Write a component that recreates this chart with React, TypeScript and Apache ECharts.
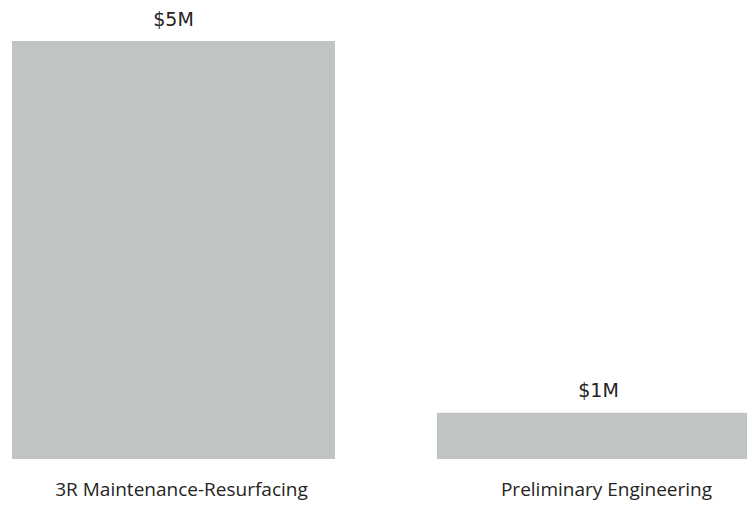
import React, { useEffect, useRef } from "react";
import * as echarts from "echarts";

const categories = ["3R Maintenance-Resurfacing", "Preliminary Engineering"];
const values = [4.6, 0.51]; // millions of dollars

export default function App() {
  const ref = useRef<HTMLDivElement>(null);
  useEffect(() => {
    const chart = echarts.init(ref.current!, null, { renderer: "svg" });
    chart.setOption({
      animation: false,
      grid: { left: 0, right: 0, top: 41, bottom: 46, containLabel: false },
      xAxis: {
        type: "category",
        data: categories,
        axisLine: { show: false },
        axisTick: { show: false },
        axisLabel: {
          margin: 20,
          color: "#252423",
          fontSize: 19,
          fontFamily: "Open Sans",
          padding: [0, 0, 0, 16],
        },
      },
      yAxis: {
        type: "value",
        min: 0,
        max: "dataMax",
        show: false,
        splitLine: { show: false },
      },
      series: [
        {
          type: "bar",
          data: values,
          barWidth: 323,
          itemStyle: { color: "#C0C5C4" },
          label: {
            show: true,
            position: "top",
            distance: 13,
            color: "#252423",
            fontSize: 19,
            fontFamily: "DejaVu Sans",
            formatter: (p: any) => "$" + Math.round(p.value) + "M",
          },
        },
      ],
    });
    return () => chart.dispose();
  }, []);
  return (
    <div style={{ width: 747, height: 505, position: "absolute", left: 0, top: 0, overflow: "hidden" }}>
      <div ref={ref} style={{ width: 850, height: 505, position: "absolute", left: -39, top: 0 }} />
    </div>
  );
}
